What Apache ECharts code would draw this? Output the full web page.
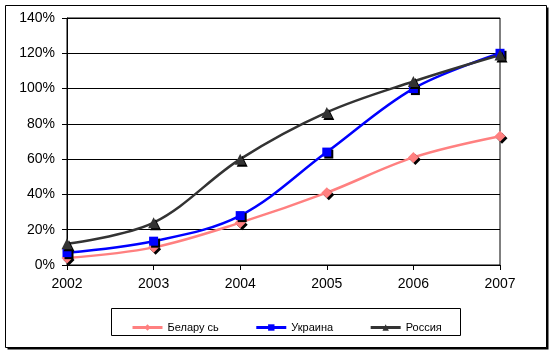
<!DOCTYPE html>
<html>
<head>
<meta charset="utf-8">
<script src="https://cdn.jsdelivr.net/npm/echarts@6/dist/echarts.min.js"></script>
<style>
html,body{margin:0;padding:0;background:#fff;}
#c{width:552px;height:355px;}
</style>
</head>
<body>
<div id="c"></div>
<script>
const years = ['2002','2003','2004','2005','2006','2007'];
const seriesNames = ['Белару сь','Украина','Россия'];
const belarus = [4, 10, 24, 41, 61, 73];
const ukraine = [7, 13.5, 28, 64, 100, 120];
const russia = [12, 24, 60, 86.5, 104, 119];
const yTicks = [0, 20, 40, 60, 80, 100, 120, 140];

const chart = echarts.init(document.getElementById('c'), null, {renderer:'canvas'});
const font = 'Liberation Sans, Arial, sans-serif';
function mk(name, data, color, symbol, size){
  return {
    name, type:'line', data, smooth:0.35,
    symbol, symbolSize:size,
    lineStyle:{color, width:2.5},
    itemStyle:{color, shadowColor:'#000', shadowBlur:0, shadowOffsetX:2, shadowOffsetY:2},
    emphasis:{disabled:true},
    animation:false
  };
}
chart.setOption({
  animation:false,
  grid:{left:67, right:52, top:18, bottom:90, show:true, borderColor:'#000', borderWidth:1, backgroundColor:'transparent'},
  graphic:[
    {type:'rect', shape:{x:7.5,y:7.5,width:541,height:342}, style:{fill:'#000'}, z:-2, silent:true},
    {type:'rect', shape:{x:5.5,y:5.5,width:541,height:342}, style:{fill:'#fff', stroke:'#000', lineWidth:1}, z:-1, silent:true},
    {type:'rect', shape:{x:111.5,y:308.5,width:349,height:27}, style:{fill:'#fff', stroke:'#000', lineWidth:1}, z:0, silent:true}
  ],
  legend:{
    data:seriesNames, left:126, top:317, itemWidth:30, itemHeight:8, itemGap:36,
    itemStyle:{shadowOffsetX:0, shadowOffsetY:0, shadowColor:'transparent'},
    lineStyle:{width:3},
    textStyle:{fontFamily:font, fontSize:11, color:'#000'},
    selectedMode:false
  },
  xAxis:{
    type:'category', data:years, boundaryGap:false,
    axisLine:{lineStyle:{color:'#000', width:1}},
    axisTick:{show:true, length:5, alignWithLabel:true, lineStyle:{color:'#000'}},
    axisLabel:{fontFamily:font, fontSize:14, color:'#000', margin:12},
    splitLine:{show:false}
  },
  yAxis:{
    type:'value', min:0, max:140, interval:20,
    axisLine:{show:true, lineStyle:{color:'#000'}},
    axisTick:{show:true, length:5, lineStyle:{color:'#000'}},
    axisLabel:{fontFamily:font, fontSize:14, color:'#000', margin:12, formatter:v=>v+'%'},
    splitLine:{show:true, lineStyle:{color:'#000', width:1}}
  },
  series:[
    mk(seriesNames[0], belarus, '#FF8080', 'diamond', 11),
    mk(seriesNames[1], ukraine, '#0000FF', 'rect', 9),
    mk(seriesNames[2], russia, '#333333', 'triangle', 11)
  ]
});
</script>
</body>
</html>
